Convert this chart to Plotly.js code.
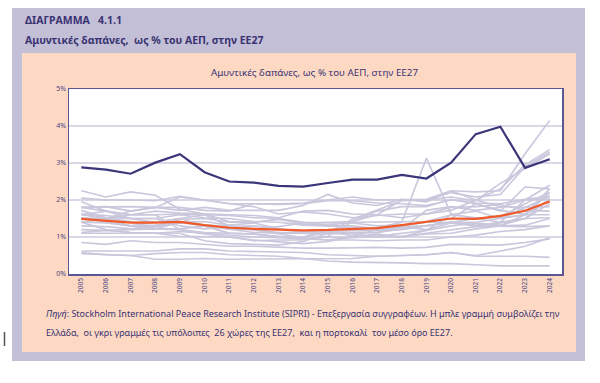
<!DOCTYPE html>
<html>
<head>
<meta charset="utf-8">
<script src="https://cdn.plot.ly/plotly-3.0.1.min.js"></script>
<style>html,body{margin:0;padding:0;background:#fff;}#chart{width:600px;height:383px;}</style>
</head>
<body>
<div id="chart"></div>
<script>
var years = ['2005','2006','2007','2008','2009','2010','2011','2012','2013','2014','2015','2016','2017','2018','2019','2020','2021','2022','2023','2024'];

var greece  = [2.88,2.82,2.71,3.01,3.24,2.75,2.50,2.47,2.38,2.36,2.46,2.55,2.55,2.68,2.58,3.01,3.78,3.98,2.87,3.10];
var euAvg   = [1.49,1.43,1.39,1.39,1.41,1.32,1.25,1.22,1.20,1.18,1.19,1.21,1.24,1.32,1.42,1.50,1.49,1.57,1.71,1.96];

var austria     = [0.85,0.80,0.90,0.85,0.85,0.80,0.75,0.75,0.72,0.70,0.70,0.72,0.72,0.70,0.72,0.80,0.80,0.78,0.85,0.95];
var belgium     = [1.10,1.10,1.10,1.10,1.15,1.10,1.05,1.00,0.98,0.95,0.92,0.92,0.90,0.92,0.92,1.00,1.05,1.15,1.20,1.30];
var bulgaria    = [2.25,2.08,2.22,2.13,1.75,1.62,1.42,1.40,1.48,1.35,1.30,1.25,1.25,1.40,3.13,1.62,1.50,1.55,1.90,2.20];
var croatia     = [1.60,1.50,1.60,1.70,1.65,1.62,1.60,1.58,1.52,1.70,1.72,1.62,1.60,1.52,1.62,1.72,2.00,1.82,1.80,1.82];
var cyprus      = [1.80,1.82,1.70,1.80,2.08,2.00,1.90,1.82,1.62,1.68,1.62,1.52,1.58,1.62,1.62,1.80,1.82,1.88,1.72,1.70];
var czechia     = [1.72,1.52,1.42,1.22,1.40,1.30,1.10,1.08,1.02,0.95,1.00,0.98,1.02,1.10,1.18,1.30,1.38,1.32,1.50,2.05];
var denmark     = [1.40,1.40,1.30,1.32,1.40,1.42,1.32,1.38,1.22,1.12,1.10,1.12,1.12,1.28,1.30,1.40,1.30,1.40,2.00,2.40];
var estonia     = [1.52,1.50,1.70,1.80,1.80,1.72,1.70,1.90,1.90,1.92,2.00,2.08,2.00,2.00,2.02,2.25,2.00,2.30,2.95,3.36];
var finland     = [1.40,1.38,1.30,1.30,1.48,1.50,1.40,1.40,1.48,1.40,1.38,1.38,1.30,1.32,1.40,1.50,1.90,1.70,2.35,2.30];
var france      = [2.05,2.00,2.00,1.98,2.10,2.00,1.90,1.90,1.88,1.90,1.98,1.98,1.92,1.90,1.85,2.00,1.92,1.90,2.02,2.10];
var germany     = [1.30,1.28,1.22,1.28,1.38,1.32,1.28,1.30,1.22,1.15,1.15,1.18,1.18,1.20,1.30,1.40,1.32,1.38,1.50,1.90];
var hungary     = [1.40,1.20,1.12,1.10,1.02,1.00,1.00,0.92,0.88,0.82,0.88,1.00,1.08,1.00,1.18,1.60,1.70,1.50,1.80,2.10];
var ireland     = [0.55,0.52,0.50,0.55,0.58,0.58,0.52,0.50,0.48,0.42,0.35,0.32,0.32,0.30,0.28,0.28,0.25,0.22,0.22,0.22];
var italy       = [1.80,1.70,1.60,1.60,1.62,1.60,1.58,1.52,1.50,1.40,1.32,1.40,1.40,1.40,1.42,1.60,1.52,1.52,1.60,1.60];
var latvia      = [1.60,1.70,1.60,1.60,1.20,1.08,1.00,0.90,0.92,0.92,1.02,1.42,1.60,2.00,2.00,2.20,2.08,2.15,2.90,3.30];
var lithuania   = [1.12,1.18,1.12,1.12,1.10,0.90,0.82,0.80,0.78,0.88,1.10,1.48,1.72,1.98,2.00,2.08,1.98,2.45,2.85,3.25];
var luxembourg  = [0.58,0.52,0.50,0.40,0.40,0.42,0.40,0.40,0.40,0.40,0.40,0.42,0.48,0.50,0.52,0.58,0.50,0.62,0.75,0.98];
var malta       = [0.62,0.62,0.62,0.62,0.68,0.68,0.62,0.60,0.60,0.58,0.52,0.50,0.48,0.50,0.52,0.58,0.48,0.48,0.48,0.45];
var netherlands = [1.50,1.48,1.40,1.40,1.42,1.32,1.22,1.20,1.12,1.12,1.12,1.12,1.12,1.22,1.30,1.40,1.40,1.50,1.60,2.00];
var poland      = [1.80,1.82,1.82,1.80,1.72,1.80,1.72,1.72,1.72,1.85,2.15,1.92,1.85,2.02,1.95,2.25,2.22,2.25,3.25,4.15];
var portugal    = [1.62,1.58,1.50,1.50,1.60,1.52,1.50,1.42,1.40,1.32,1.30,1.30,1.22,1.30,1.40,1.40,1.50,1.40,1.50,1.52];
var romania     = [1.95,1.70,1.50,1.50,1.30,1.22,1.30,1.22,1.28,1.38,1.40,1.42,1.70,1.82,1.82,2.02,1.90,1.72,1.62,2.30];
var slovakia    = [1.62,1.52,1.50,1.40,1.50,1.30,1.10,1.08,1.00,1.00,1.12,1.12,1.12,1.22,1.72,1.82,1.72,1.80,2.00,2.02];
var slovenia    = [1.40,1.50,1.30,1.40,1.52,1.60,1.30,1.20,1.08,0.98,0.92,1.00,1.00,1.00,1.08,1.10,1.22,1.30,1.32,1.50];
var spain       = [1.20,1.18,1.20,1.22,1.20,1.12,1.10,1.08,1.00,1.00,1.18,1.02,1.20,1.28,1.20,1.38,1.30,1.28,1.28,1.30];
var sweden      = [1.52,1.40,1.30,1.22,1.22,1.30,1.20,1.12,1.10,1.10,1.08,1.08,1.02,1.02,1.10,1.20,1.28,1.30,1.60,2.20];

var others = [austria,belgium,bulgaria,croatia,cyprus,czechia,denmark,estonia,finland,france,germany,hungary,ireland,italy,latvia,lithuania,luxembourg,malta,netherlands,poland,portugal,romania,slovakia,slovenia,spain,sweden];

var yTicks = [0,1,2,3,4,5];
var yTickText = ['0%','1%','2%','3%','4%','5%'];

var NB = '\u00a0';
var header1 = 'ΔΙΑΓΡΑΜΜΑ' + NB + NB + NB + '4.1.1';
var header2 = 'Αμυντικές δαπάνες,' + NB + NB + 'ως % του ΑΕΠ, στην ΕΕ27';
var innerTitle = 'Αμυντικές δαπάνες, ως % του ΑΕΠ, στην ΕΕ27';
var foot1 = '<i>Πηγή</i>: Stockholm International Peace Research Institute (SIPRI) - Επεξεργασία συγγραφέων. Η μπλε γραμμή συμβολίζει την';
var foot2 = 'Ελλάδα,' + NB + NB + 'οι γκρι γραμμές τις υπόλοιπες' + NB + NB + '26 χώρες της ΕΕ27,' + NB + NB + 'και η πορτοκαλί' + NB + NB + 'τον μέσο όρο ΕΕ27.';

// plot area in pixels
var L = 69, R = 562, T = 89, B = 274;
function px(x){ return (x - L) / (R - L); }
function py(y){ return (B - y) / (B - T); }

var traces = [];
others.forEach(function(arr){
  traces.push({x: years, y: arr, type: 'scatter', mode: 'lines',
    line: {color: '#c9c7dc', width: 1.6}, hoverinfo: 'skip', showlegend: false});
});
traces.push({x: years, y: euAvg, type: 'scatter', mode: 'lines',
  line: {color: '#f05a28', width: 2.2}, showlegend: false});
traces.push({x: years, y: greece, type: 'scatter', mode: 'lines',
  line: {color: '#3a3679', width: 2.2}, showlegend: false});

var textColor = '#3a3372';

var layout = {
  width: 600, height: 383,
  margin: {l: L, r: 600 - R, t: T, b: 383 - B},
  paper_bgcolor: '#ffffff',
  plot_bgcolor: '#ffffff',
  font: {family: 'Noto Sans, sans-serif', color: textColor},
  showlegend: false,
  xaxis: {
    type: 'category', range: [-0.5, 19.5],
    tickangle: -90, tickfont: {size: 6.5, color: '#4a4585'},
    showgrid: false, zeroline: false,
    showline: true, mirror: true, linecolor: '#5c5794', linewidth: 1.5,
    ticks: '', ticklen: 0
  },
  yaxis: {
    range: [0, 5], tickvals: yTicks, ticktext: yTickText,
    tickfont: {size: 7, color: '#4a4585'},
    showgrid: true, gridcolor: '#dad8e7', gridwidth: 1.5,
    zeroline: false,
    showline: true, mirror: true, linecolor: '#5c5794', linewidth: 1.5,
    ticks: '', ticklen: 0
  },
  shapes: [
    {type: 'rect', xref: 'paper', yref: 'paper', layer: 'below',
      x0: px(12), x1: px(585), y0: py(361), y1: py(8),
      fillcolor: '#c3bfd6', line: {width: 0}},
    {type: 'rect', xref: 'paper', yref: 'paper', layer: 'below',
      x0: px(22), x1: px(576), y0: py(352), y1: py(53),
      fillcolor: '#fdd9c4', line: {width: 0}},
    {type: 'rect', xref: 'paper', yref: 'paper', layer: 'below',
      x0: 0, x1: 1, y0: 0, y1: 1,
      fillcolor: '#ffffff', line: {width: 0}},
    {type: 'line', xref: 'paper', yref: 'paper',
      x0: px(4.5), x1: px(4.5), y0: py(332), y1: py(346),
      line: {color: '#555555', width: 1.5}}
  ],
  annotations: [
    {text: '<b>' + header1 + '</b>', xref: 'paper', yref: 'paper', x: px(23), y: py(20),
      xanchor: 'left', yanchor: 'middle', showarrow: false, font: {size: 10.5, color: textColor}},
    {text: '<b>' + header2 + '</b>', xref: 'paper', yref: 'paper', x: px(23), y: py(40),
      xanchor: 'left', yanchor: 'middle', showarrow: false, font: {size: 10.5, color: textColor}},
    {text: innerTitle, xref: 'paper', yref: 'paper', x: px(314), y: py(72),
      xanchor: 'center', yanchor: 'middle', showarrow: false, font: {size: 9.8, color: textColor}},
    {text: foot1, xref: 'paper', yref: 'paper', x: px(44), y: py(313),
      xanchor: 'left', yanchor: 'middle', showarrow: false, font: {size: 9, color: textColor}},
    {text: foot2, xref: 'paper', yref: 'paper', x: px(44), y: py(332),
      xanchor: 'left', yanchor: 'middle', showarrow: false, font: {size: 9, color: textColor}}
  ]
};

Plotly.newPlot('chart', traces, layout, {displayModeBar: false, staticPlot: true});
</script>
</body>
</html>
